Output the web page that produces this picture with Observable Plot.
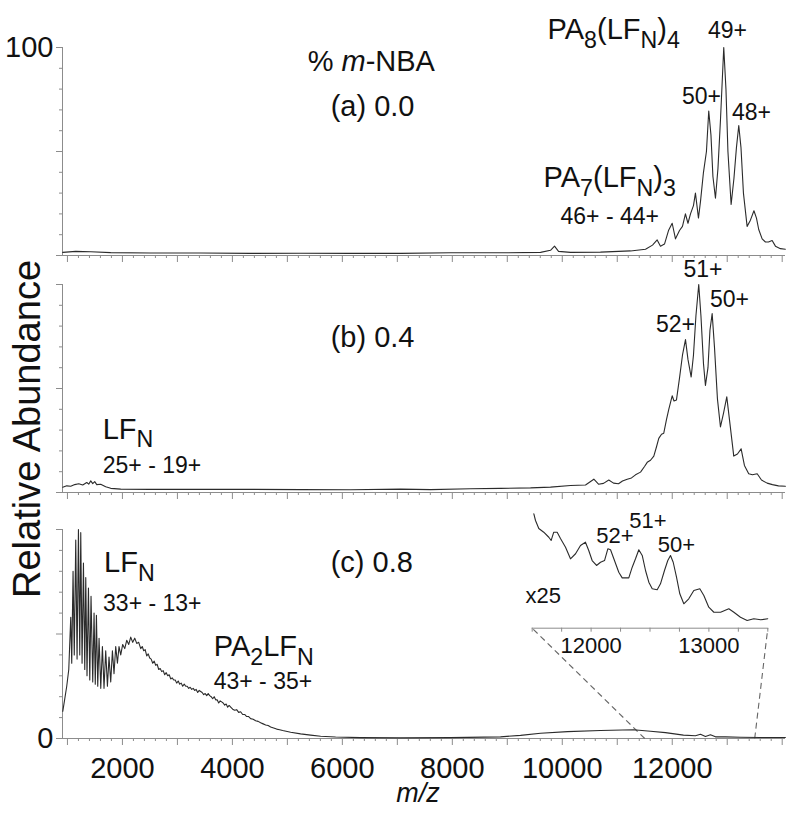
<!DOCTYPE html>
<html><head><meta charset="utf-8">
<script src="https://cdn.jsdelivr.net/npm/d3@7"></script>
<script src="https://cdn.jsdelivr.net/npm/@observablehq/plot@0.6"></script>
<style>
body{margin:0;background:#fff;}
#chart{position:relative;width:800px;height:813px;background:#fff;font-family:"Liberation Sans",Arial,sans-serif;color:#111;overflow:hidden}
#chart svg{position:absolute;left:0;}
.ylab{position:absolute;left:27px;top:429px;transform:translate(-50%,-50%) rotate(-90deg);font-size:38px;white-space:nowrap;line-height:1;}
.xlab{position:absolute;left:418px;top:780px;transform:translateX(-50%);font-size:27px;font-style:italic;line-height:1;}
</style></head><body><div id="chart"><div class="ylab">Relative Abundance</div><div class="xlab">m/z</div></div>
<script>
// ---------- DATA (m/z, relative abundance) ----------
const traceA = [[915,1.5],[1151,2.0],[1424,1.8],[1787,1.4],[2514,1.2],[3423,1.2],[4332,1.0],[5241,1.1],[6150,1.0],[7060,1.0],[7968,1.3],[8877,1.3],[9605,1.5],[9786,2.5],[9859,4.5],[9932,2.0],[10150,1.5],[10695,1.6],[11241,2.2],[11514,3.0],[11641,5.0],[11726,7.5],[11786,4.5],[11859,5.5],[11932,12],[11999,15.5],[12059,8.0],[12132,12],[12186,14],[12240,20],[12286,15.5],[12332,20],[12386,24],[12422,30],[12477,18],[12514,26],[12568,40],[12622,50],[12664,69.5],[12704,58],[12740,38],[12786,27.5],[12832,42],[12877,65],[12937,100],[12977,80],[13013,50],[13071,24.5],[13122,37],[13168,52],[13210,62.5],[13250,52],[13295,30],[13362,14],[13422,17],[13486,21.5],[13532,18],[13573,12.5],[13635,8],[13695,6.5],[13750,6.5],[13817,7.2],[13877,4.5],[13968,3.3],[14058,3.0]];

const traceB = [[915,2.5],[987,3.2],[1060,3.0],[1133,3.8],[1206,4.2],[1278,3.6],[1351,4.8],[1387,4.0],[1424,5.6],[1460,4.3],[1496,5.2],[1533,3.8],[1605,4.0],[1696,2.8],[1787,2.0],[1969,1.6],[2514,1.5],[3423,1.5],[4332,1.5],[5241,1.4],[6150,1.3],[7060,1.6],[7605,1.4],[8332,1.8],[8877,2.0],[9423,2.2],[9786,2.6],[10150,3.4],[10423,3.6],[10574,6.4],[10659,4.0],[10750,4.4],[10846,6.0],[10932,4.5],[11023,4.2],[11095,5.5],[11181,6.4],[11259,7.0],[11332,8.5],[11423,9.8],[11496,12.5],[11545,14.5],[11605,15.5],[11665,17.5],[11714,22],[11755,26],[11805,28],[11846,28.5],[11895,35],[11937,40],[11999,46.5],[12032,44],[12077,44.5],[12132,55],[12186,66],[12241,73.5],[12286,64],[12344,55.5],[12386,66],[12431,85],[12482,100],[12522,85],[12568,62],[12604,51.5],[12650,60],[12686,78],[12726,86],[12768,70],[12822,45],[12877,31.5],[12932,38],[12992,46],[13050,33],[13119,17.5],[13186,18.5],[13253,21],[13313,13],[13391,9],[13459,8.5],[13545,9],[13623,6],[13726,4.5],[13822,3.8],[13932,3.2],[14058,3.0]];

const traceC = [[915,13],[951,19],[987,25],[1024,33],[1060,58],[1078,36],[1102,80],[1124,40],[1151,95],[1175,38],[1200,100],[1224,40],[1242,98.5],[1266,36],[1291,84],[1315,33],[1333,77],[1356,30],[1382,72],[1406,28],[1429,68],[1460,27],[1484,60],[1506,26],[1527,59],[1551,25],[1575,48],[1606,24],[1636,44],[1665,24],[1696,42],[1727,25],[1756,39],[1787,27],[1818,42],[1847,31],[1878,44],[1909,36],[1938,44],[1969,40],[2005,45],[2042,43],[2078,47],[2115,45],[2151,48.5],[2187,46],[2224,48],[2260,45.5],[2296,46],[2333,43],[2360,44],[2387,42],[2414,42.5],[2442,39.5],[2469,40.5],[2496,38.5],[2523,38],[2551,36],[2578,37],[2605,35],[2632,35.5],[2660,33],[2687,33.5],[2714,32],[2741,32.5],[2769,30.5],[2796,31.5],[2824,30],[2851,30.5],[2878,28.5],[2905,29],[2933,28],[2960,28],[2987,26.5],[3015,27.5],[3042,26],[3069,26.5],[3096,25],[3124,26],[3151,25],[3178,25],[3205,24],[3232,24.5],[3260,23.5],[3287,24],[3314,23],[3341,23.5],[3369,22],[3396,23],[3423,22.5],[3450,22],[3478,21],[3505,21.5],[3533,20.5],[3560,21.5],[3587,20.5],[3614,20],[3642,19],[3669,20],[3696,18.5],[3723,18.5],[3751,17],[3778,18],[3805,17.5],[3832,17],[3860,16],[3887,16.5],[3914,15],[3941,15.8],[3969,15],[4005,14],[4042,13.5],[4078,13.8],[4114,12.5],[4150,12.8],[4187,11.5],[4223,11.5],[4260,10.5],[4296,10.5],[4332,9.5],[4378,9.2],[4423,8.5],[4468,8.2],[4514,7.5],[4560,7],[4605,6.5],[4650,6.2],[4696,5.5],[4750,5],[4805,4.5],[4860,4.2],[4914,3.8],[5060,3.0],[5241,2.2],[5423,1.6],[5605,1.1],[5878,0.7],[6332,0.4],[7060,0.3],[7968,0.4],[8877,0.8],[9241,1.5],[9605,2.5],[10096,3.3],[10695,3.8],[11295,4.2],[11605,3.5],[11877,2.8],[12204,1.6],[12422,1.3],[12514,2.0],[12604,1.0],[12695,1.8],[12786,0.8],[12968,0.8],[13240,0.6],[13604,0.5],[14058,0.5]];

// inset: panel (c), 11500-13500, magnified x25
const traceInset = [[11514,99.7],[11528,93.9],[11556,86.9],[11598,83.7],[11641,79.3],[11661,76.5],[11683,83.7],[11712,83.7],[11740,78.2],[11783,70.6],[11825,60.5],[11868,64.9],[11910,72.1],[11952,75],[11980,67.7],[12009,59],[12046,54.7],[12080,57.5],[12114,59],[12142,69.2],[12165,68.4],[12193,60.5],[12235,48.8],[12264,43.9],[12320,43.9],[12349,53.2],[12377,60.5],[12405,68.4],[12434,63.4],[12462,50.3],[12490,40.1],[12519,34.4],[12561,33.5],[12589,38.7],[12623,50.3],[12651,59],[12674,63.4],[12697,57.5],[12725,44.5],[12753,30],[12787,21.3],[12829,25.6],[12872,32.9],[12923,34.4],[12957,28.5],[12999,18.3],[13042,13.9],[13099,13.9],[13169,16.9],[13212,13.9],[13268,9.6],[13325,6.7],[13381,8.2],[13440,7.3],[13500,8.2]];

// tick values
const X_DOMAIN = [910, 14060];
const xMajorTicks = d3.range(1000, 14001, 1000);
const xMinorTicks = d3.range(1000, 14001, 200).filter(v => v % 1000 !== 0);
const xTickLabels = [2000, 4000, 6000, 8000, 10000, 12000];
const yMajorTicks = [0, 50, 100];
const yMinorTicks = [10, 20, 30, 40, 60, 70, 80, 90];
const INSET_DOMAIN = [11500, 13500];
const insetTicks = d3.range(11500, 13501, 250);
const insetTickLabels = [12000, 13000];

// annotations: [text, m/z, abundance]
const headA = [["% *m*-NBA", 5369, 93.4], ["(a) 0.0", 5787, 71.3], ["PA_8(LF_N)_4", 9732, 108.7], ["PA_7(LF_N)_3", 9659, 37.5]];
const rangeA = [["46+ - 44+", 9968, 18.8]];
const chargeA = [["49+", 13005, 108], ["50+", 12532, 76.6], ["48+", 13441, 68.9]];
const headB = [["(b) 0.4", 5787, 74.4], ["LF_N", 1642, 30.4]];
const rangeB = [["25+ - 19+", 1642, 13.1]];
const chargeB = [["51+", 12559, 107], ["50+", 13041, 92.5], ["52+", 12059, 80.5]];
const headC = [["(c) 0.8", 5787, 84.2], ["LF_N", 1666, 84], ["PA_2LF_N", 3660, 44]];
const rangeC = [["33+ - 13+", 1648, 64.3], ["43+ - 35+", 3660, 27]];
const chargeInset = [["52+", 12203, 80], ["51+", 12483, 93.5], ["50+", 12725, 72.5]];
const rangeInset = [["x25", 11443, 28.5]];

// ---------- RENDER ----------
const FONT = '"Liberation Sans", Arial, sans-serif';
const INK = "#111", AXIS = "#8c8c8c", TRACE = "#2b2b2b";
const W = 800, ML = 62, MR = 15;
const chart = document.getElementById("chart");
const style = {background: "transparent", overflow: "visible", fontFamily: FONT, color: INK};

const txt = (arr, size, anchor) => Plot.text(arr, {x: d => d[1], y: d => d[2], text: d => d[0], fontSize: size, textAnchor: anchor, lineAnchor: "middle", fill: INK});

function richify(svg) {
  const NS = "http://www.w3.org/2000/svg";
  svg.querySelectorAll("text").forEach(t => {
    const s = t.textContent;
    if (!/[_*]/.test(s)) return;
    t.textContent = "";
    const re = /_(\{[^}]*\}|.)|\*([^*]+)\*|([^_*]+)/g;
    let m, low = false;
    while ((m = re.exec(s))) {
      const ts = document.createElementNS(NS, "tspan");
      if (m[1] !== undefined) {
        ts.textContent = m[1].startsWith("{") ? m[1].slice(1, -1) : m[1];
        ts.setAttribute("font-size", "80%");
        if (!low) { ts.setAttribute("dy", "0.38em"); low = true; }
      } else {
        ts.textContent = m[2] !== undefined ? m[2] : m[3];
        if (m[2] !== undefined) ts.setAttribute("font-style", "italic");
        if (low) { ts.setAttribute("dy", "-0.304em"); low = false; }
      }
      t.appendChild(ts);
    }
  });
}

function place(svg, top, left = 0) {
  svg.style.position = "absolute";
  svg.style.top = top + "px";
  svg.style.left = left + "px";
  chart.appendChild(svg);
  richify(svg);
}

function panel({trace, top, height, mt, mb, head = [], range = [], charge = [], yLabels, xLabels, extra = []}) {
  const marks = [
    Plot.ruleY([0], {stroke: AXIS}),
    Plot.ruleX([X_DOMAIN[0]], {stroke: AXIS}),
    Plot.axisX(xMinorTicks, {tickSize: 3, fill: "none", stroke: AXIS}),
    Plot.axisX(xMajorTicks, {tickSize: 7, fill: "none", stroke: AXIS}),
    Plot.axisY(yMinorTicks, {tickSize: 3, fill: "none", stroke: AXIS}),
    Plot.axisY(yMajorTicks, {tickSize: 6, fill: "none", stroke: AXIS}),
    ...extra,
    Plot.line(trace, {x: d => d[0], y: d => d[1], stroke: TRACE, strokeWidth: 1.1}),
    txt(head, 29, "start"), txt(range, 23, "start"), txt(charge, 23, "middle")
  ];
  if (yLabels) marks.push(Plot.axisY(yLabels, {tickSize: 0, tickPadding: 9, fontSize: 29, fill: INK, label: null, tickFormat: "d"}));
  if (xLabels) marks.push(Plot.axisX(xLabels, {tickSize: 0, tickPadding: 19, fontSize: 29, fill: INK, label: null, tickFormat: "d"}));
  const svg = Plot.plot({
    width: W, height, marginLeft: ML, marginRight: MR, marginTop: mt, marginBottom: mb,
    x: {domain: X_DOMAIN, axis: null}, y: {domain: [0, 100], axis: null},
    style, marks
  });
  place(svg, top);
}

// inset geometry
const INSET = {left: 500, top: 490, width: 290, height: 170, ml: 31.7, mr: 22.7, mt: 23, mb: 32.3};
// panel (c) geometry
const PC = {top: 505, height: 308, mt: 24, mb: 75};

// dashed connector endpoints derived from the inset placement via the main scales
const xMain = d3.scaleLinear(X_DOMAIN, [ML, W - MR]);
const yMainC = d3.scaleLinear([0, 100], [PC.top + PC.height - PC.mb, PC.top + PC.mt]);
const insetAxisY = INSET.top + INSET.height - INSET.mb;
const insetEnds = [INSET.left + INSET.ml, INSET.left + INSET.width - INSET.mr];
const connectors = INSET_DOMAIN.map((v, i) => ({x1: v, y1: 0, x2: xMain.invert(insetEnds[i]), y2: yMainC.invert(insetAxisY)}));

panel({trace: traceA, top: 0, height: 270, mt: 47, mb: 15, head: headA, range: rangeA, charge: chargeA, yLabels: [100]});
panel({trace: traceB, top: 270, height: 235, mt: 14, mb: 13, head: headB, range: rangeB, charge: chargeB});
panel({trace: traceC, ...PC, head: headC, range: rangeC, yLabels: [0], xLabels: xTickLabels,
  extra: [Plot.link(connectors, {x1: "x1", y1: "y1", x2: "x2", y2: "y2", stroke: "#666", strokeWidth: 1.1, strokeDasharray: "6,4"})]});

const inset = Plot.plot({
  width: INSET.width, height: INSET.height, marginLeft: INSET.ml, marginRight: INSET.mr, marginTop: INSET.mt, marginBottom: INSET.mb,
  x: {domain: INSET_DOMAIN, axis: null}, y: {domain: [0, 100], axis: null}, style,
  marks: [
    Plot.ruleY([0], {stroke: AXIS}),
    Plot.axisX(insetTicks, {tickSize: 4, fill: "none", stroke: AXIS}),
    Plot.axisX(insetTickLabels, {tickSize: 0, tickPadding: 9, fontSize: 22, fill: INK, label: null, tickFormat: "d"}),
    Plot.line(traceInset, {x: d => d[0], y: d => d[1], stroke: TRACE, strokeWidth: 1.1}),
    txt(chargeInset, 22, "middle"), txt(rangeInset, 22, "start")
  ]
});
place(inset, INSET.top, INSET.left);
</script></body></html>
